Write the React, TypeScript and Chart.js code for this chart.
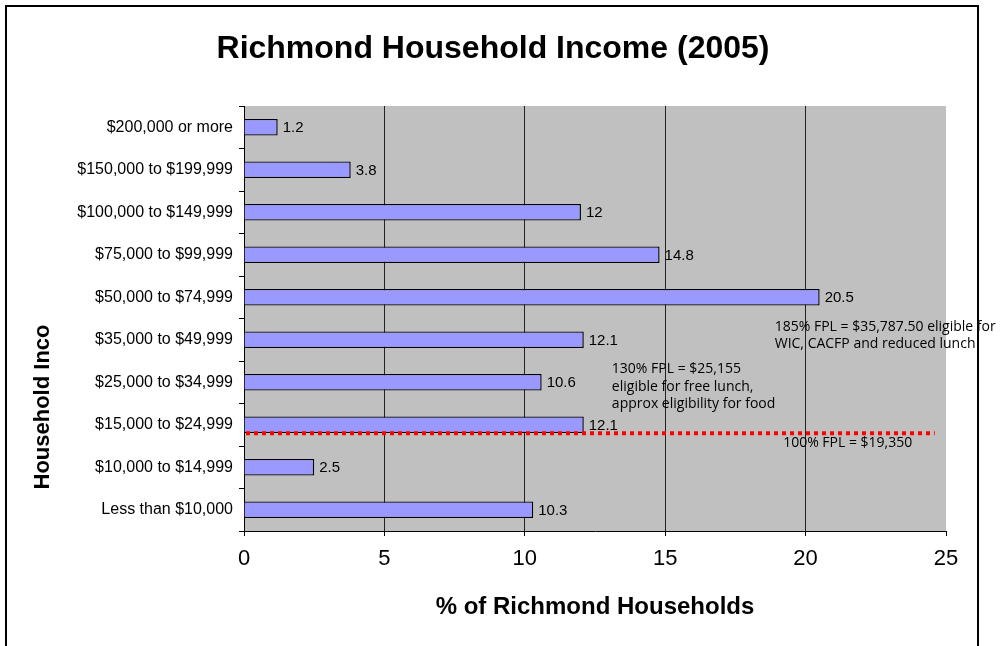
import React, { useEffect, useRef } from "react";
import { Chart, registerables } from "chart.js";

Chart.register(...registerables);

const categories = [
  "$200,000 or more",
  "$150,000 to $199,999",
  "$100,000 to $149,999",
  "$75,000 to $99,999",
  "$50,000 to $74,999",
  "$35,000 to $49,999",
  "$25,000 to $34,999",
  "$15,000 to $24,999",
  "$10,000 to $14,999",
  "Less than $10,000",
];
const householdShares = [1.2, 3.8, 12, 14.8, 20.5, 12.1, 10.6, 12.1, 2.5, 10.3];
const xTicks = [0, 5, 10, 15, 20, 25];
const titleText = "Richmond Household Income (2005)";
const xTitle = "% of Richmond Households";
const yTitle = "Household Inco";

// Federal poverty line marker (category-scale level, x extent)
const fplLevel = 7.2;
const fplLineEnd = 24.6;

// Annotations: [x value, category level of first line, lines]
const annotations: { x: number; y: number; lines: string[] }[] = [
  { x: 18.9, y: 4.69, lines: ["185% FPL = $35,787.50 eligible for", "WIC, CACFP and reduced lunch"] },
  { x: 13.1, y: 5.7, lines: ["130% FPL = $25,155", "eligible for free lunch,", "approx eligibility for food"] },
  { x: 19.2, y: 7.43, lines: ["100% FPL = $19,350"] },
];

const FONT = "'Liberation Sans', Arial, sans-serif";
const NOTE_FONT = "'Open Sans', 'Noto Sans', sans-serif";

const decorPlugin = {
  id: "decor",
  beforeDraw(chart: any) {
    const { ctx, chartArea } = chart;
    ctx.save();
    ctx.fillStyle = "#ffffff";
    ctx.fillRect(0, 0, chart.width, chart.height);
    ctx.fillStyle = "#C0C0C0";
    ctx.fillRect(chartArea.left, chartArea.top, chartArea.right - chartArea.left, chartArea.bottom - chartArea.top);
    ctx.restore();
  },
  afterDatasetsDraw(chart: any) {
    const { ctx } = chart;
    const xs = chart.scales.x;
    const ys = chart.scales.y;
    ctx.save();
    // value labels
    ctx.font = `15px ${FONT}`;
    ctx.fillStyle = "#000";
    ctx.textAlign = "left";
    ctx.textBaseline = "middle";
    const meta = chart.getDatasetMeta(0);
    meta.data.forEach((el: any, i: number) => {
      ctx.fillText(String(householdShares[i]), el.x + 5, el.y + 1);
    });
    // FPL dotted line
    const ly = ys.getPixelForValue(fplLevel);
    ctx.strokeStyle = "#FF0000";
    ctx.lineWidth = 4;
    ctx.setLineDash([4, 4]);
    ctx.beginPath();
    ctx.moveTo(xs.getPixelForValue(0) + 2, ly);
    ctx.lineTo(xs.getPixelForValue(fplLineEnd), ly);
    ctx.stroke();
    ctx.setLineDash([]);
    // annotations
    ctx.font = `14px ${NOTE_FONT}`;
    ctx.fillStyle = "#000";
    ctx.textBaseline = "middle";
    annotations.forEach((a) => {
      const x = xs.getPixelForValue(a.x);
      const y0 = ys.getPixelForValue(a.y);
      a.lines.forEach((line, k) => ctx.fillText(line, x, y0 + k * 17.5));
    });
    ctx.restore();
  },
  afterDraw(chart: any) {
    const { ctx, chartArea } = chart;
    ctx.save();
    // outer frame
    ctx.strokeStyle = "#000";
    ctx.lineWidth = 2;
    ctx.beginPath();
    ctx.moveTo(6, chart.height + 5);
    ctx.lineTo(6, 6);
    ctx.lineTo(978, 6);
    ctx.lineTo(978, chart.height + 5);
    ctx.stroke();
    // title
    ctx.fillStyle = "#000";
    ctx.textAlign = "center";
    ctx.textBaseline = "middle";
    ctx.font = `bold 32px ${FONT}`;
    ctx.fillText(titleText, 493, 49);
    // x title
    ctx.font = `bold 24px ${FONT}`;
    ctx.fillText(xTitle, (chartArea.left + chartArea.right) / 2, 607);
    // y title
    ctx.translate(43, 407);
    ctx.rotate(-Math.PI / 2);
    ctx.font = `bold 22px ${FONT}`;
    ctx.fillText(yTitle, 0, 0);
    ctx.restore();
  },
};

export default function App() {
  const ref = useRef<HTMLCanvasElement | null>(null);
  useEffect(() => {
    if (!ref.current) return;
    const chart = new Chart(ref.current, {
      type: "bar",
      data: {
        labels: categories,
        datasets: [
          {
            data: householdShares,
            backgroundColor: "#9999FF",
            borderColor: "#000000",
            borderWidth: 1.4,
            barPercentage: 0.39,
            categoryPercentage: 1,
          },
        ],
      },
      options: {
        indexAxis: "y",
        animation: false,
        responsive: false,
        layout: { padding: { top: 106, left: 0, right: 59, bottom: 0 } },
        plugins: { legend: { display: false }, title: { display: false }, tooltip: { enabled: false } },
        scales: {
          x: {
            type: "linear",
            min: 0,
            max: 25,
            afterBuildTicks: (s: any) => {
              s.ticks = xTicks.map((v) => ({ value: v }));
            },
            afterFit: (s: any) => {
              s.height = 115;
            },
            ticks: { color: "#000", font: { family: FONT, size: 22 }, padding: 10, maxRotation: 0 },
            grid: {
              color: (c: any) => (c.tick && c.tick.value === 25 ? "rgba(0,0,0,0)" : "#222"),
              tickColor: "#000",
              lineWidth: 1,
              tickLength: 5,
              drawOnChartArea: true,
            },
            border: { display: true, color: "#000", width: 1 },
          },
          y: {
            type: "category",
            afterFit: (s: any) => {
              s.width = 244;
            },
            ticks: { color: "#000", font: { family: FONT, size: 16 }, padding: 6 },
            grid: { drawOnChartArea: false, tickLength: 5, color: "#000", offset: true },
            border: { display: true, color: "#000", width: 1 },
          },
        },
      },
      plugins: [decorPlugin],
    } as any);
    return () => chart.destroy();
  }, []);
  return (
    <div style={{ position: "fixed", left: 0, top: 0, width: 1005, height: 646, background: "#fff" }}>
      <canvas ref={ref} width={1005} height={646} style={{ display: "block" }} />
    </div>
  );
}
